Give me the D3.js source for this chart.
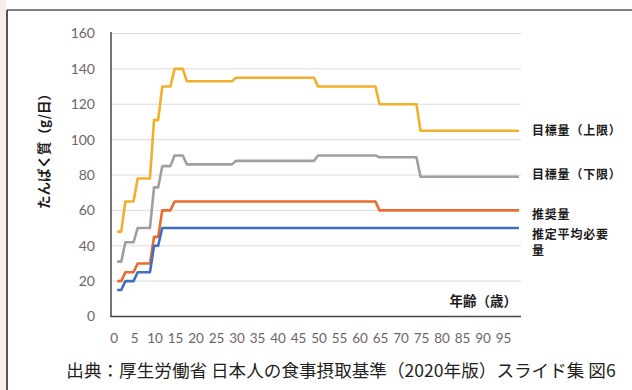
<!DOCTYPE html>
<html>
<head>
<meta charset="utf-8">
<script src="https://cdn.jsdelivr.net/npm/d3@7"></script>
<style>
  html, body { margin: 0; padding: 0; background: #ffffff; }
  svg { display: block; }
</style>
</head>
<body>
<svg id="chart" width="632" height="390"></svg>
<script>
// Protein intake reference values by age (g/day), one value per age group
const groupStart = [1, 3, 6, 10, 12, 15, 18, 30, 50, 65, 75];
const groupEnd   = [2, 5, 9, 11, 14, 17, 29, 49, 64, 74, 99];

const targetUpper = [48, 65, 78, 111, 130, 140, 133, 135, 130, 120, 105];
const targetLower = [31, 42, 50, 73, 85, 91, 86, 88, 91, 90, 79];
const recommended = [20, 25, 30, 45, 60, 65, 65, 65, 65, 60, 60];
const averageReq  = [15, 20, 25, 40, 50, 50, 50, 50, 50, 50, 50];

const seriesNames  = ["目標量（上限）", "目標量（下限）", "推奨量", "推定平均必要量"];
const seriesColors = ["#f0b02a", "#a39d9e", "#ec6a32", "#3c6fc2"];

const yTicks = [0, 20, 40, 60, 80, 100, 120, 140, 160];
const xTickAges = [0, 5, 10, 15, 20, 25, 30, 35, 40, 45, 50, 55, 60, 65, 70, 75, 80, 85, 90, 95];
const ages = d3.range(0, 100);

const yTitle = "たんぱく質（g/日）";
const xTitle = "年齢（歳）";
const caption = "出典：厚生労働省 日本人の食事摂取基準（2020年版）スライド集 図6";

// expand age-group values into one point per year of age
function perAge(values) {
  const pts = [];
  groupStart.forEach((s, i) => {
    for (let a = s; a <= groupEnd[i]; a++) pts.push({ age: a, v: values[i] });
  });
  return pts;
}
const series = [targetUpper, targetLower, recommended, averageReq].map(perAge);

const svg = d3.select("#chart");

// page frame
svg.append("rect").attr("x", 0).attr("y", 0).attr("width", 6).attr("height", 390).attr("fill", "#fcebeb");
svg.append("line").attr("x1", 7).attr("x2", 7).attr("y1", 10).attr("y2", 390)
  .attr("stroke", "#5a5456").attr("stroke-width", 2);
svg.append("line").attr("x1", 7).attr("x2", 632).attr("y1", 10).attr("y2", 10)
  .attr("stroke", "#5a5456").attr("stroke-width", 1.5);

const x = d3.scaleBand().domain(ages).range([111, 521]).padding(0);
const xc = a => x(a) + x.bandwidth() / 2;
const y = d3.scaleLinear().domain([0, 160]).range([316.5, 33.5]);

// gridlines
svg.append("g").selectAll("line").data(yTicks.filter(t => t > 0)).join("line")
  .attr("x1", 111).attr("x2", 521)
  .attr("y1", d => y(d)).attr("y2", d => y(d))
  .attr("stroke", "#dedada").attr("stroke-width", 1);

// y tick labels
svg.append("g").selectAll("text").data(yTicks).join("text")
  .attr("x", 95).attr("y", d => y(d)).attr("dy", "0.35em")
  .attr("text-anchor", "end")
  .attr("font-family", "Lato, 'Open Sans', sans-serif").attr("font-size", 14)
  .attr("fill", "#6f6465")
  .text(d => d);

// x tick labels
svg.append("g").selectAll("text").data(xTickAges).join("text")
  .attr("x", d => xc(d) + 1).attr("y", 338).attr("dy", "0.35em")
  .attr("text-anchor", "middle")
  .attr("font-family", "Lato, 'Open Sans', sans-serif").attr("font-size", 13.5)
  .attr("fill", "#6f6465")
  .text(d => d);

// axis lines
svg.append("line").attr("x1", 111).attr("x2", 111).attr("y1", 32).attr("y2", 317)
  .attr("stroke", "#4a4446").attr("stroke-width", 1.5);
svg.append("line").attr("x1", 110.5).attr("x2", 521).attr("y1", 316.5).attr("y2", 316.5)
  .attr("stroke", "#4a4446").attr("stroke-width", 1.5);

// series lines
const line = d3.line().x(d => xc(d.age)).y(d => y(d.v));
svg.append("g").selectAll("path").data(series).join("path")
  .attr("d", line)
  .attr("fill", "none")
  .attr("stroke", (d, i) => seriesColors[i])
  .attr("stroke-width", 2.6)
  .attr("stroke-linejoin", "round");

// series labels at the right end of each line
const labelFont = "'Noto Sans CJK JP', sans-serif";
const labelG = svg.append("g").attr("font-family", labelFont).attr("font-weight", 700)
  .attr("font-size", 12).attr("letter-spacing", 0.8).attr("fill", "#1e1a1b");
labelG.append("text").attr("x", 532).attr("y", 131).attr("dy", "0.35em").text(seriesNames[0]);
labelG.append("text").attr("x", 532).attr("y", 175).attr("dy", "0.35em").text(seriesNames[1]);
labelG.append("text").attr("x", 532).attr("y", 215).attr("dy", "0.35em").text(seriesNames[2]);
labelG.append("text").attr("x", 532).attr("y", 235).attr("dy", "0.35em").text(seriesNames[3].slice(0, 6));
labelG.append("text").attr("x", 532).attr("y", 251).attr("dy", "0.35em").text(seriesNames[3].slice(6));

// axis titles
svg.append("text")
  .attr("transform", "translate(44,148) rotate(-90)")
  .attr("text-anchor", "middle").attr("dy", "0.35em")
  .attr("font-family", labelFont).attr("font-weight", 700).attr("font-size", 13.5)
  .attr("fill", "#1e1a1b")
  .text(yTitle);
svg.append("text")
  .attr("x", 517).attr("y", 301).attr("dy", "0.35em")
  .attr("text-anchor", "end")
  .attr("font-family", labelFont).attr("font-weight", 700).attr("font-size", 13.5)
  .attr("fill", "#1e1a1b")
  .text(xTitle);

// source caption
svg.append("text")
  .attr("x", 341).attr("y", 371).attr("dy", "0.35em")
  .attr("text-anchor", "middle")
  .attr("font-family", labelFont).attr("font-size", 17.6)
  .attr("fill", "#231f20")
  .text(caption);
</script>
</body>
</html>
